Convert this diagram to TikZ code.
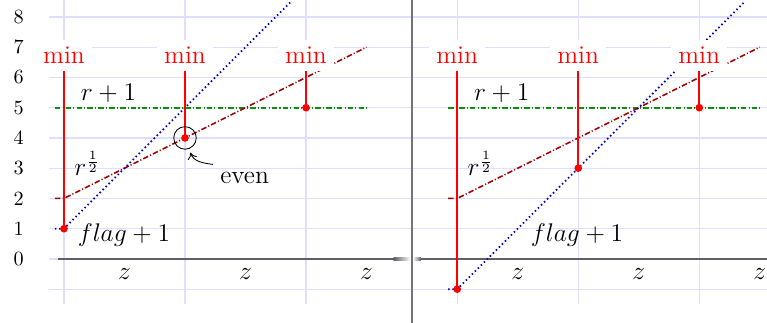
\documentclass[tikz,border=0pt]{standalone}
\usetikzlibrary{arrows.meta}
\definecolor{gridc}{RGB}{222,222,255}
\definecolor{axisc}{RGB}{95,95,105}
\definecolor{funcred}{RGB}{160,0,0}
\definecolor{funcgreen}{RGB}{10,145,10}
\definecolor{funcblue}{RGB}{0,0,190}
\definecolor{sepc}{RGB}{115,115,115}
\begin{document}
\begin{tikzpicture}[x=0.5cm,y=0.5cm,
  gridline/.style={draw=gridc,line width=0.6pt},
  redline/.style={draw=red,line width=1pt},
  reddot/.style={circle,fill=red,inner sep=0pt,minimum size=3.6pt},
  minlbl/.style={fill=white,text=red,font=\large,anchor=south},
  rfun/.style={draw=funcred,line width=0.7pt,dash pattern=on 2.6pt off 1pt on 0.5pt off 1pt},
  gfun/.style={draw=funcgreen,line width=0.8pt,dash pattern=on 2.6pt off 1pt on 0.5pt off 1pt},
  bfun/.style={draw=funcblue,line width=0.8pt,dash pattern=on 0.7pt off 1.3pt},
  lbl/.style={font=\large,inner sep=0pt},
  ylbl/.style={font=\fontsize{9.5}{11}\selectfont},
]
\useasboundingbox (-2.116,-2.116) rectangle (23.24,8.56);
% ---------- grids ----------
\foreach \y in {-1,...,8} {
  \draw[gridline] (-0.5,\y) -- (11.49,\y);
  \draw[gridline] (11.49,\y) -- (23.3,\y);
}
\foreach \x in {0,4,8,13,17,21}
  \draw[gridline] (\x,-1.5) -- (\x,8.6);
% ---------- axes ----------
\fill[axisc] (-0.2,-0.045) rectangle (10.9,0.045);
\shade[left color=axisc,right color=white] (10.9,-0.045) rectangle (11.45,0.045);
\shade[left color=white,right color=axisc] (11.53,-0.045) rectangle (11.8,0.045);
\fill[axisc] (11.8,-0.045) rectangle (23.3,0.045);
% separator
\draw[sepc,line width=1pt] (11.49,-2.2) -- (11.49,8.6);
% y labels
\foreach \y in {0,...,8}
  \node[ylbl] (yl\y) at (-1.5,\y) {\y};

% ================= left panel =================
\begin{scope}
  \coordinate (a0) at (-0.3,2); \coordinate (a1) at (0,2); \coordinate (a2) at (10,7);
  \coordinate (g0) at (-0.3,5); \coordinate (g1) at (10,5);
  \coordinate (b0) at (-0.3,1); \coordinate (b1) at (0,1); \coordinate (b2) at (7.5,8.5);
  \draw[gfun] (g0) -- (g1);
  \draw[rfun] (a0) -- (a1) -- (a2);
  \draw[bfun] (b0) -- (b1) -- (b2);
  \node[minlbl] (lm1) at (0,6.2) {min};
  \node[minlbl] (lm2) at (4,6.2) {min};
  \node[minlbl] (lm3) at (8,6.2) {min};
  \coordinate (lp1) at (0,1); \coordinate (lp2) at (4,4); \coordinate (lp3) at (8,5);
  \draw[redline] (lp1) -- (lm1.south);
  \draw[redline] (lp2) -- (lm2.south);
  \draw[redline] (lp3) -- (lm3.south);
  \node[reddot] (ld1) at (lp1) {};
  \node[reddot] (ld2) at (lp2) {};
  \node[reddot] (ld3) at (lp3) {};
  \node[circle,draw,thin,minimum size=10.6pt,inner sep=0pt,outer sep=2pt] (ev) at (lp2) {};
  \node[font=\large,anchor=base] (evl) at (5.97,2.5) {even};
  \draw[-{To[length=3pt,width=4.5pt]},thin] (evl.north west) to[out=172,in=-70] (ev);
  \node[lbl,anchor=base] (lr) at (1.47,5.23) {$r+1$};
  \node[lbl,anchor=base west] (lrh) at (0.33,2.75) {$r^{\frac{1}{2}}$};
  \node[lbl,anchor=base] (lf) at (1.98,0.57) {$flag+1$};
  \node[lbl] (lz1) at (2,-0.5) {$z$};
  \node[lbl] (lz2) at (6,-0.5) {$z$};
  \node[lbl] (lz3) at (10,-0.5) {$z$};
\end{scope}

% ================= right panel =================
\begin{scope}[shift={(13,0)}]
  \coordinate (c0) at (-0.3,2); \coordinate (c1) at (0,2); \coordinate (c2) at (10,7);
  \coordinate (h0) at (-0.3,5); \coordinate (h1) at (10,5);
  \coordinate (e0) at (-0.3,-1); \coordinate (e1) at (0,-1); \coordinate (e2) at (9.5,8.5);
  \draw[gfun] (h0) -- (h1);
  \draw[rfun] (c0) -- (c1) -- (c2);
  \draw[bfun] (e0) -- (e1) -- (e2);
  \node[minlbl] (rm1) at (0,6.2) {min};
  \node[minlbl] (rm2) at (4,6.2) {min};
  \node[minlbl] (rm3) at (8,6.2) {min};
  \coordinate (rp1) at (0,-1); \coordinate (rp2) at (4,3); \coordinate (rp3) at (8,5);
  \draw[redline] (rp1) -- (rm1.south);
  \draw[redline] (rp2) -- (rm2.south);
  \draw[redline] (rp3) -- (rm3.south);
  \node[reddot] (rd1) at (rp1) {};
  \node[reddot] (rd2) at (rp2) {};
  \node[reddot] (rd3) at (rp3) {};
  \node[lbl,anchor=base] (rr) at (1.47,5.23) {$r+1$};
  \node[lbl,anchor=base west] (rrh) at (0.33,2.75) {$r^{\frac{1}{2}}$};
  \node[lbl,anchor=base] (rf) at (3.96,0.57) {$flag+1$};
  \node[lbl] (rz1) at (2,-0.5) {$z$};
  \node[lbl] (rz2) at (6,-0.5) {$z$};
  \node[lbl] (rz3) at (10,-0.5) {$z$};
\end{scope}
\end{tikzpicture}
\end{document}
